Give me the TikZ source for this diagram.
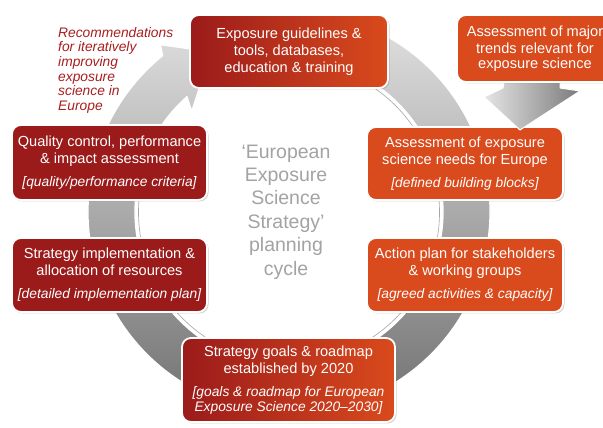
\documentclass[tikz,border=0pt]{standalone}
\usepackage{fontspec}
\setmainfont{Liberation Sans}
\usetikzlibrary{shadows}
\definecolor{dred}{HTML}{9B1B1B}
\definecolor{oran}{HTML}{D94A1C}
\definecolor{rtext}{HTML}{A81E1E}
\definecolor{ctext}{HTML}{A3A3A3}
\newcommand\subtxt[1]{{\fontsize{13.8}{17}\selectfont\itshape #1}}
\begin{document}
\begin{tikzpicture}[x=1pt,y=1pt,
  box/.style={rounded corners=9pt, draw=white, line width=1.8pt, text=white, align=center,
    inner sep=0pt, drop shadow={shadow xshift=1.5pt, shadow yshift=-1.5pt, opacity=0.35},
    font=\fontsize{14.6}{17}\selectfont},
  redbox/.style={box, fill=dred},
  orbox/.style={box, fill=oran},
  gradbox/.style={box, left color=dred, right color=oran},
  ringfill/.style={top color=black!12, bottom color=black!58, draw=white, line width=1.3pt},
]
\useasboundingbox (0,0) rectangle (603,428);
\fill[white] (0,0) rectangle (603,428);
% ring arrow
\begin{scope}[shift={(289,216)}]
\shade[ringfill]
  (75:201) arc[start angle=75, end angle=-231, radius=201]
  -- (127.5:211) -- (116:178) -- (134:140) -- (-228.5:154)
  arc[start angle=-228.5, end angle=75, radius=154] -- cycle;
\draw[black!35, line width=0.6pt] (60:150.5) arc[start angle=60, end angle=-200, radius=150.5];
\end{scope}
% boxes
\node[gradbox, minimum width=198pt, minimum height=73pt] (guide) at (289,376.5)
  {Exposure guidelines \&\\tools, databases,\\education \& training};
\node[redbox, minimum width=195pt, minimum height=75pt] (qual) at (109.5,265.5)
  {Quality control, performance\\\& impact assessment\\[6pt]\subtxt{[quality/performance criteria]}};
\node[redbox, minimum width=195pt, minimum height=74pt] (impl) at (109.5,153)
  {Strategy implementation \&\\allocation of resources\\[6pt]\subtxt{[detailed implementation plan]}};
\node[orbox, minimum width=196pt, minimum height=73pt] (needs) at (465,264.5)
  {Assessment of exposure\\science needs for Europe\\[6pt]\subtxt{[defined building blocks]}};
\node[orbox, minimum width=196pt, minimum height=74pt] (action) at (465,153)
  {Action plan for stakeholders\\\& working groups\\[6pt]\subtxt{[agreed activities \& capacity]}};
\node[gradbox, minimum width=213pt, minimum height=84pt] (goals) at (288.5,48)
  {Strategy goals \& roadmap\\established by 2020\\[6pt]\subtxt{[goals \& roadmap for European}\\[-2pt]\subtxt{Exposure Science 2020–2030]}};
% arrow from trends box into needs box
\shade[left color=black!10, right color=black!52, draw=white, line width=1pt]
  (505,352) -- (560,352) -- (560,340) -- (580,337) -- (520,298) -- (484,331) -- (503,340) -- cycle;
\node[orbox, minimum width=156pt, minimum height=67pt] (trend) at (535,379.5)
  {Assessment of major\\trends relevant for\\[-1.5pt]exposure science};
% texts
\node[text=ctext, align=center, inner sep=0pt, font=\fontsize{19.5}{23.4}\selectfont] (cycle) at (286,216)
  {‘European\\Exposure\\Science\\Strategy’\\planning\\cycle};
\node[text=rtext, align=left, inner sep=0pt, anchor=north west, font=\fontsize{13.8}{14.7}\selectfont\itshape] (reco) at (58,401)
  {Recommendations\\for iteratively\\improving\\exposure\\science in\\Europe};
\end{tikzpicture}
\end{document}
